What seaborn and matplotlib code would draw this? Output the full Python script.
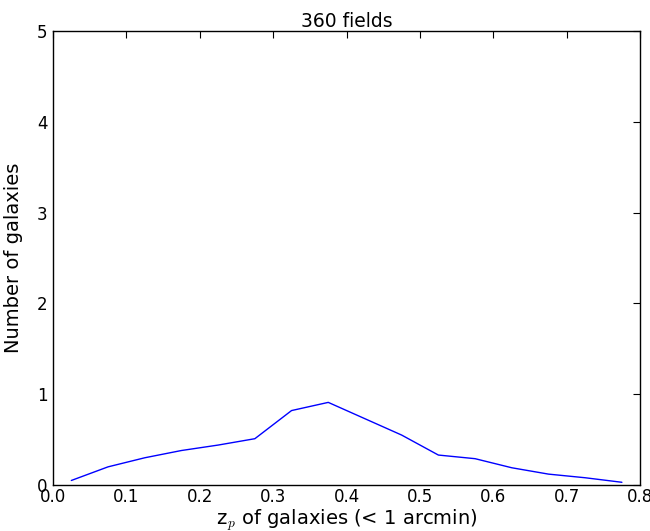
import matplotlib
matplotlib.use("Agg")
import matplotlib.pyplot as plt
import seaborn as sns
import pandas as pd

z_centers = [0.025, 0.075, 0.125, 0.175, 0.225, 0.275, 0.325, 0.375,
             0.425, 0.475, 0.525, 0.575, 0.625, 0.675, 0.725, 0.775]
n_galaxies = [0.05, 0.20, 0.30, 0.38, 0.44, 0.51, 0.82, 0.91,
              0.73, 0.55, 0.33, 0.29, 0.19, 0.12, 0.08, 0.03]

sns.set_style("white")
plt.rcParams['font.family'] = ['DejaVu Sans']
plt.rcParams['mathtext.fontset'] = 'cm'
plt.rcParams['text.color'] = 'black'
plt.rcParams['axes.labelcolor'] = 'black'

df = pd.DataFrame({"z": z_centers, "n": n_galaxies})

fig = plt.figure(figsize=(6.5, 5.31), dpi=100)
ax = fig.add_axes([0.0815, 0.0866, 0.9035, 0.855])
sns.lineplot(data=df, x="z", y="n", ax=ax, color="#0000ff", linewidth=1.0)

ax.set_xlim(0, 0.8)
ax.set_ylim(0, 5)
ax.set_xticks([0.0, 0.1, 0.2, 0.3, 0.4, 0.5, 0.6, 0.7, 0.8])
ax.set_xticklabels(["0.0", "0.1", "0.2", "0.3", "0.4", "0.5", "0.6", "0.7", "0.8"])
ax.set_yticks([0, 1, 2, 3, 4, 5])
ax.tick_params(direction="in", length=5, width=0.8, top=True, right=True,
               labelsize=12, colors="black")
ax.tick_params(axis="x", pad=2)
ax.tick_params(axis="y", pad=4)
for s in ax.spines.values():
    s.set_color("black")
    s.set_linewidth(1.0)
ax.set_xlabel(r"z$_p$ of galaxies (< 1 arcmin)", fontsize=14, labelpad=1, color="black")
ax.set_ylabel("Number of galaxies", fontsize=14, labelpad=10, color="black")
ax.set_title("360 fields", fontsize=13.5, pad=3, color="black")

fig.savefig("out.png", dpi=100)
